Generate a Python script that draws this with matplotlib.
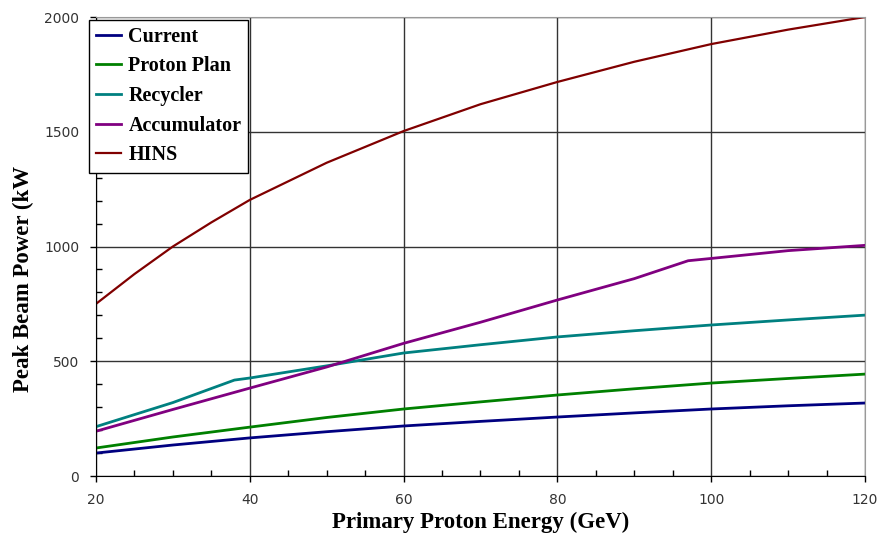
import numpy as np
import matplotlib.pyplot as plt
from matplotlib.ticker import MultipleLocator

# beam power vs primary proton energy
energy = [20, 30, 40, 50, 60, 70, 80, 90, 100, 110, 120]
current = [100, 135, 166, 193, 218, 238, 257, 275, 292, 306, 318]
proton_plan = [122, 170, 213, 255, 292, 323, 353, 380, 405, 425, 444]

recycler_e = [20, 30, 38, 40, 50, 60, 70, 80, 90, 100, 110, 120]
recycler = [215, 320, 418, 427, 480, 536, 572, 606, 633, 658, 680, 701]

accum_e = [20, 30, 40, 50, 60, 70, 80, 90, 97, 100, 110, 120]
accumulator = [195, 290, 383, 475, 578, 670, 767, 860, 938, 948, 982, 1005]

hins_e = [20, 25, 30, 35, 40, 50, 60, 70, 80, 90, 100, 110, 120]
hins = [750, 880, 1000, 1105, 1203, 1365, 1503, 1620, 1717, 1805, 1882, 1945, 2000]

serif = ['Liberation Serif', 'DejaVu Serif']

fig = plt.figure(figsize=(8.87, 5.4), dpi=100)
ax = fig.add_axes([0.1082, 0.1185, 0.867, 0.85])

ax.plot(energy, current, color='#000080', lw=2, label='Current')
ax.plot(energy, proton_plan, color='#008000', lw=2, label='Proton Plan')
ax.plot(recycler_e, recycler, color='#008080', lw=2, label='Recycler')
ax.plot(accum_e, accumulator, color='#800080', lw=2, label='Accumulator')
ax.plot(hins_e, hins, color='#800000', lw=1.6, label='HINS')

ax.set_xlim(20, 120)
ax.set_ylim(0, 2000)
ax.xaxis.set_major_locator(MultipleLocator(20))
ax.xaxis.set_minor_locator(MultipleLocator(5))
ax.yaxis.set_major_locator(MultipleLocator(500))
ax.yaxis.set_minor_locator(MultipleLocator(100))
ax.grid(True, which='major', color='#333333', lw=1)
ax.set_axisbelow(True)

ax.tick_params(which='major', direction='out', length=4, width=1,
               labelsize=10, labelcolor='#333333', pad=8)
ax.tick_params(which='minor', direction='in', length=4, width=1)
for s in ['left', 'bottom']:
    ax.spines[s].set_color('black')
for s in ['top', 'right']:
    ax.spines[s].set_color('#999999')

ax.set_xlabel('Primary Proton Energy (GeV)', family=serif, fontweight='bold',
              fontsize=16.5, labelpad=4)
ax.set_ylabel('Peak Beam Power (kW', family=serif, fontweight='bold',
              fontsize=16.5)
ax.yaxis.set_label_coords(-0.081, 0.43)

leg = ax.legend(loc='upper left', bbox_to_anchor=(-0.009, 0.994),
                borderaxespad=0, fancybox=False, framealpha=1,
                edgecolor='black', handlelength=1.25, handletextpad=0.35,
                labelspacing=0.48, borderpad=0.35,
                prop={'family': serif, 'weight': 'bold', 'size': 14.5})
leg.get_frame().set_linewidth(1)
leg.set_zorder(5)

fig.savefig('out.png', dpi=100)
